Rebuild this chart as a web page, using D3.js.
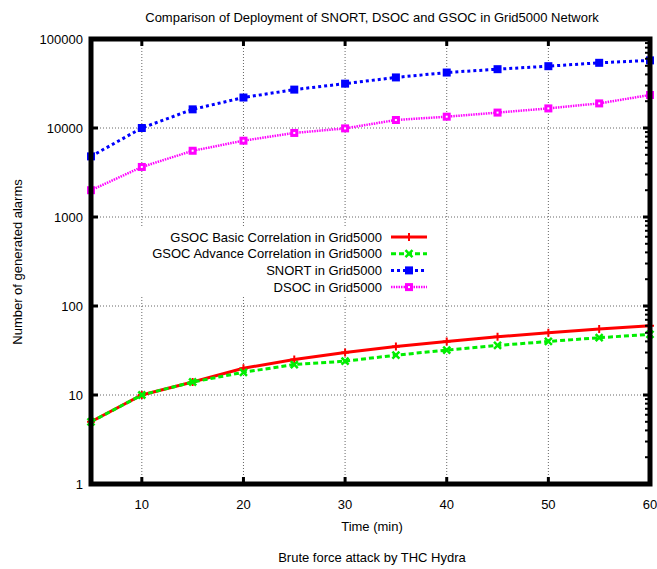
<!DOCTYPE html>
<html>
<head>
<meta charset="utf-8">
<script src="https://cdn.jsdelivr.net/npm/d3@7"></script>
<style>
  body { margin: 0; background: #fff; }
  text { font-family: "Liberation Sans", Arial, sans-serif; fill: #000; }
</style>
</head>
<body>
<svg id="mainSVG" width="657" height="569"></svg>
<script>
// dados
var tempos = [5, 10, 15, 20, 25, 30, 35, 40, 45, 50, 55, 60];
var gsocBasic = [5, 10, 14, 20, 25, 30, 35, 40, 45, 50, 55, 60];
var gsocAdvance = [5, 10, 14, 18, 22, 24, 28, 32, 36, 40, 44, 48];
var snort = [4800, 10000, 16200, 22000, 27000, 31500, 37000, 42000, 45800, 49500, 54000, 57500];
var dsoc = [2000, 3650, 5550, 7200, 8800, 9900, 12300, 13400, 14900, 16600, 18900, 23500];
var xTicks = [10, 20, 30, 40, 50, 60];
var yTicks = [1, 10, 100, 1000, 10000, 100000];
var nomes = ["GSOC Basic Correlation in Grid5000", "GSOC Advance Correlation in Grid5000",
             "SNORT in Grid5000", "DSOC in Grid5000"];

var mainSVG = d3.select("#mainSVG");

// margens da area do grafico
var margin = {left: 91, right: 650, top: 39, bottom: 484};

// escalas
var xScale = d3.scaleLinear().domain([5, 60]).range([margin.left, margin.right]);
var yScale = d3.scaleLog().domain([1, 100000]).range([margin.bottom, margin.top]);

// grade pontilhada
mainSVG.selectAll(".gridX")
	.data(xTicks.slice(0, 5))
	.enter().append("line")
	.attr("x1", function(d) { return xScale(d); })
	.attr("x2", function(d) { return xScale(d); })
	.attr("y1", margin.top).attr("y2", margin.bottom)
	.attr("stroke", "#666").attr("stroke-width", 1)
	.attr("stroke-dasharray", "1,2");
mainSVG.selectAll(".gridY")
	.data(yTicks.slice(1, 5))
	.enter().append("line")
	.attr("x1", margin.left).attr("x2", margin.right)
	.attr("y1", function(d) { return yScale(d); })
	.attr("y2", function(d) { return yScale(d); })
	.attr("stroke", "#666").attr("stroke-width", 1)
	.attr("stroke-dasharray", "1,2");

// fundo branco da legenda
mainSVG.append("rect")
	.attr("x", 141).attr("y", 228).attr("width", 300).attr("height", 68)
	.attr("fill", "#fff");

// series
var series = [
	{nome: nomes[0], valores: gsocBasic, cor: "#ff0000", dash: null, largura: 3, marca: "plus"},
	{nome: nomes[1], valores: gsocAdvance, cor: "#00ee00", dash: "5,3", largura: 3, marca: "cross"},
	{nome: nomes[2], valores: snort, cor: "#0000ff", dash: "3,3", largura: 3, marca: "square"},
	{nome: nomes[3], valores: dsoc, cor: "#ff00ff", dash: "1.5,1", largura: 2.5, marca: "box"}
];

var linha = d3.line()
	.x(function(d) { return xScale(d[0]); })
	.y(function(d) { return yScale(d[1]); });

function desenhaMarca(g, tipo, cor, x, y) {
	if (tipo == "plus") {
		g.append("path")
			.attr("d", "M" + (x - 4) + "," + y + "h8M" + x + "," + (y - 4) + "v8")
			.attr("stroke", cor).attr("stroke-width", 2).attr("fill", "none");
	} else if (tipo == "cross") {
		g.append("path")
			.attr("d", "M" + (x - 3.5) + "," + (y - 3.5) + "l7,7M" + (x + 3.5) + "," + (y - 3.5) + "l-7,7")
			.attr("stroke", cor).attr("stroke-width", 2.5).attr("fill", "none");
	} else if (tipo == "square") {
		g.append("rect")
			.attr("x", x - 4).attr("y", y - 4).attr("width", 8).attr("height", 8)
			.attr("fill", cor);
	} else {
		g.append("rect")
			.attr("x", x - 4).attr("y", y - 4).attr("width", 8).attr("height", 8)
			.attr("fill", cor);
		g.append("rect")
			.attr("x", x - 1).attr("y", y - 1).attr("width", 2).attr("height", 2)
			.attr("fill", "#fff");
	}
}

series.forEach(function(s) {
	var pontos = tempos.map(function(t, i) { return [t, s.valores[i]]; });
	var g = mainSVG.append("g");
	g.append("path")
		.datum(pontos)
		.attr("d", linha)
		.attr("fill", "none")
		.attr("stroke", s.cor)
		.attr("stroke-width", s.largura)
		.attr("stroke-dasharray", s.dash);
	pontos.forEach(function(p) {
		desenhaMarca(g, s.marca, s.cor, xScale(p[0]), yScale(p[1]));
	});
});

// legenda
var legY = 237, legPasso = 16.7;
series.forEach(function(s, i) {
	var y = legY + i * legPasso;
	mainSVG.append("text")
		.attr("x", 382).attr("y", y + 4.5)
		.attr("text-anchor", "end")
		.style("font-size", "13px")
		.text(s.nome);
	mainSVG.append("line")
		.attr("x1", 391).attr("x2", 427)
		.attr("y1", y).attr("y2", y)
		.attr("stroke", s.cor).attr("stroke-width", s.largura)
		.attr("stroke-dasharray", s.dash);
	desenhaMarca(mainSVG, s.marca, s.cor, 409, y);
});

// ticks maiores
var ticks = mainSVG.append("g").attr("stroke", "#000").attr("stroke-width", 3);
xTicks.slice(0, 5).forEach(function(d) {
	ticks.append("line").attr("x1", xScale(d)).attr("x2", xScale(d)).attr("y1", margin.bottom).attr("y2", margin.bottom - 7);
	ticks.append("line").attr("x1", xScale(d)).attr("x2", xScale(d)).attr("y1", margin.top).attr("y2", margin.top + 7);
});
yTicks.slice(1, 5).forEach(function(d) {
	ticks.append("line").attr("x1", margin.left).attr("x2", margin.left + 7).attr("y1", yScale(d)).attr("y2", yScale(d));
	ticks.append("line").attr("x1", margin.right).attr("x2", margin.right - 7).attr("y1", yScale(d)).attr("y2", yScale(d));
});
// ticks menores (lado direito)
yScale.ticks().forEach(function(d) {
	if (yTicks.indexOf(d) < 0) {
		mainSVG.append("line")
			.attr("x1", margin.right).attr("x2", margin.right - 5)
			.attr("y1", yScale(d)).attr("y2", yScale(d))
			.attr("stroke", "#000").attr("stroke-width", 2);
	}
});

// moldura
mainSVG.append("rect")
	.attr("x", margin.left).attr("y", margin.top)
	.attr("width", margin.right - margin.left).attr("height", margin.bottom - margin.top)
	.attr("fill", "none").attr("stroke", "#000").attr("stroke-width", 5);

// rotulos dos eixos
mainSVG.selectAll(".xLabel")
	.data(xTicks)
	.enter().append("text")
	.attr("x", function(d) { return xScale(d); })
	.attr("y", 509)
	.attr("text-anchor", "middle")
	.style("font-size", "13px")
	.text(function(d) { return d; });
mainSVG.selectAll(".yLabel")
	.data(yTicks)
	.enter().append("text")
	.attr("x", 83)
	.attr("y", function(d) { return yScale(d) + 5; })
	.attr("text-anchor", "end")
	.style("font-size", "13px")
	.text(function(d) { return d; });

// titulos
mainSVG.append("text")
	.attr("x", 372).attr("y", 22)
	.attr("text-anchor", "middle")
	.style("font-size", "13px")
	.text("Comparison of Deployment of SNORT, DSOC and GSOC in Grid5000 Network");
mainSVG.append("text")
	.attr("x", 372).attr("y", 531)
	.attr("text-anchor", "middle")
	.style("font-size", "13px")
	.text("Time (min)");
mainSVG.append("text")
	.attr("x", 372).attr("y", 562)
	.attr("text-anchor", "middle")
	.style("font-size", "13px")
	.text("Brute force attack by THC Hydra");
mainSVG.append("text")
	.attr("transform", "translate(22,262) rotate(-90)")
	.attr("text-anchor", "middle")
	.style("font-size", "13px")
	.text("Number of generated alarms");
</script>
</body>
</html>
